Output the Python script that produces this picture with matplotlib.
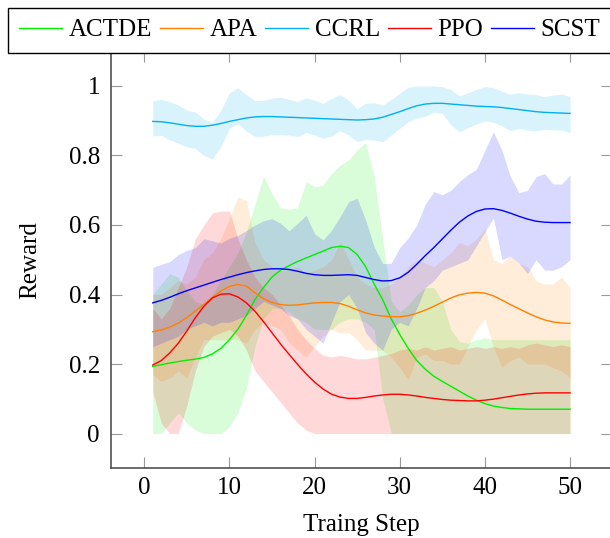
import numpy as np
import matplotlib
matplotlib.use("Agg")
import matplotlib.pyplot as plt

steps = list(range(1, 51))
series_names = ["ACTDE", "APA", "CCRL", "PPO", "SCST"]

actde_mean = [0.193, 0.198, 0.203, 0.207, 0.211, 0.214, 0.219, 0.229, 0.245, 0.27,
              0.30, 0.34, 0.385, 0.42, 0.45, 0.47, 0.483, 0.495, 0.505, 0.515,
              0.525, 0.535, 0.539, 0.535, 0.515, 0.48, 0.43, 0.385, 0.33, 0.285,
              0.245, 0.21, 0.185, 0.165, 0.15, 0.136, 0.122, 0.108, 0.096, 0.086,
              0.079, 0.075, 0.072, 0.071, 0.07, 0.07, 0.07, 0.07, 0.07, 0.07]
actde_upper = [0.40, 0.43, 0.46, 0.45, 0.41, 0.38, 0.37, 0.40, 0.44, 0.48,
               0.52, 0.58, 0.66, 0.74, 0.69, 0.65, 0.645, 0.65, 0.725, 0.71,
               0.715, 0.748, 0.772, 0.787, 0.816, 0.837, 0.74, 0.56, 0.38, 0.35,
               0.37, 0.40, 0.42, 0.42, 0.38, 0.30, 0.265, 0.26, 0.27, 0.275,
               0.27, 0.27, 0.27, 0.27, 0.27, 0.27, 0.27, 0.27, 0.27, 0.27]
actde_lower = [0.0, 0.0, 0.03, 0.06, 0.03, 0.01, 0.0, 0.0, 0.0, 0.02,
               0.06, 0.13, 0.25, 0.33, 0.36, 0.36, 0.35, 0.33, 0.32, 0.30,
               0.30, 0.30, 0.32, 0.33, 0.33, 0.32, 0.30, 0.10, 0.0, 0.0,
               0.0, 0.0, 0.0, 0.0, 0.0, 0.0, 0.0, 0.0, 0.0, 0.0,
               0.0, 0.0, 0.0, 0.0, 0.0, 0.0, 0.0, 0.0, 0.0, 0.0]

apa_mean = [0.293, 0.298, 0.306, 0.318, 0.333, 0.352, 0.372, 0.392, 0.41, 0.423,
            0.429, 0.424, 0.405, 0.388, 0.377, 0.371, 0.369, 0.370, 0.373, 0.376,
            0.377, 0.377, 0.374, 0.366, 0.356, 0.347, 0.341, 0.338, 0.336, 0.336,
            0.339, 0.346, 0.355, 0.366, 0.378, 0.39, 0.399, 0.404, 0.406, 0.404,
            0.396, 0.384, 0.371, 0.359, 0.347, 0.336, 0.327, 0.321, 0.318, 0.317]
apa_upper = [0.40, 0.40, 0.42, 0.44, 0.43, 0.45, 0.50, 0.52, 0.56, 0.62,
             0.68, 0.67, 0.55, 0.50, 0.48, 0.47, 0.47, 0.48, 0.46, 0.47,
             0.48, 0.50, 0.55, 0.50, 0.45, 0.43, 0.42, 0.42, 0.43, 0.45,
             0.48, 0.50, 0.49, 0.48, 0.50, 0.52, 0.55, 0.54, 0.56, 0.59,
             0.50, 0.49, 0.51, 0.49, 0.48, 0.44, 0.43, 0.43, 0.45, 0.42]
apa_lower = [0.17, 0.15, 0.16, 0.18, 0.16, 0.22, 0.27, 0.27, 0.27, 0.27,
             0.27, 0.26, 0.30, 0.32, 0.31, 0.30, 0.26, 0.24, 0.22, 0.25,
             0.28, 0.30, 0.29, 0.29, 0.27, 0.24, 0.24, 0.24, 0.22, 0.19,
             0.155, 0.22, 0.23, 0.21, 0.21, 0.20, 0.20, 0.25, 0.30, 0.33,
             0.25, 0.19, 0.21, 0.22, 0.20, 0.20, 0.20, 0.19, 0.18, 0.16]

ccrl_mean = [0.898, 0.897, 0.894, 0.89, 0.886, 0.884, 0.884, 0.887, 0.892, 0.898,
             0.903, 0.908, 0.911, 0.912, 0.912, 0.911, 0.910, 0.909, 0.908, 0.907,
             0.906, 0.905, 0.904, 0.903, 0.902, 0.903, 0.905, 0.910, 0.918, 0.926,
             0.935, 0.943, 0.948, 0.950, 0.950, 0.948, 0.946, 0.944, 0.942, 0.941,
             0.940, 0.938, 0.935, 0.932, 0.929, 0.926, 0.924, 0.923, 0.922, 0.921]
ccrl_upper = [0.957, 0.962, 0.955, 0.945, 0.930, 0.925, 0.905, 0.895, 0.930, 0.980,
              0.995, 0.975, 0.958, 0.958, 0.965, 0.967, 0.962, 0.955, 0.966, 0.959,
              0.950, 0.964, 0.975, 0.959, 0.935, 0.950, 0.952, 0.945, 0.961, 0.979,
              0.996, 1.0, 1.0, 1.0, 0.998, 0.99, 0.972, 0.98, 0.99, 0.998,
              0.995, 0.985, 0.976, 0.981, 0.977, 0.975, 0.969, 0.974, 0.977, 0.969]
ccrl_lower = [0.856, 0.858, 0.845, 0.835, 0.825, 0.82, 0.80, 0.79, 0.825, 0.878,
              0.892, 0.87, 0.855, 0.855, 0.86, 0.86, 0.859, 0.854, 0.866, 0.859,
              0.849, 0.856, 0.871, 0.859, 0.840, 0.846, 0.844, 0.840, 0.859, 0.878,
              0.897, 0.907, 0.913, 0.925, 0.921, 0.888, 0.868, 0.88, 0.89, 0.90,
              0.895, 0.885, 0.871, 0.878, 0.873, 0.871, 0.875, 0.874, 0.873, 0.866]

ppo_mean = [0.197, 0.21, 0.232, 0.26, 0.295, 0.333, 0.366, 0.390, 0.401, 0.402,
            0.393, 0.376, 0.352, 0.322, 0.29, 0.258, 0.228, 0.199, 0.172, 0.148,
            0.128, 0.113, 0.105, 0.101, 0.101, 0.104, 0.108, 0.111, 0.113, 0.113,
            0.111, 0.108, 0.104, 0.101, 0.098, 0.096, 0.095, 0.094, 0.094, 0.096,
            0.099, 0.103, 0.107, 0.111, 0.114, 0.116, 0.117, 0.117, 0.117, 0.117]
ppo_upper = [0.36, 0.33, 0.36, 0.42, 0.48, 0.56, 0.60, 0.635, 0.64, 0.64,
             0.56, 0.50, 0.45, 0.42, 0.40, 0.37, 0.34, 0.30, 0.27, 0.245,
             0.225, 0.22, 0.225, 0.22, 0.215, 0.215, 0.22, 0.225, 0.23, 0.24,
             0.245, 0.24, 0.25, 0.24, 0.245, 0.25, 0.24, 0.245, 0.25, 0.245,
             0.25, 0.245, 0.25, 0.245, 0.255, 0.26, 0.255, 0.25, 0.255, 0.25]
ppo_lower = [0.12, 0.03, 0.0, 0.0, 0.08, 0.18, 0.25, 0.28, 0.29, 0.30,
             0.28, 0.24, 0.18, 0.15, 0.12, 0.09, 0.06, 0.03, 0.01, 0.0,
             0.0, 0.0, 0.0, 0.0, 0.0, 0.0, 0.0, 0.0, 0.0, 0.0,
             0.0, 0.0, 0.0, 0.0, 0.0, 0.0, 0.0, 0.0, 0.0, 0.0,
             0.0, 0.0, 0.0, 0.0, 0.0, 0.0, 0.0, 0.0, 0.0, 0.0]

scst_mean = [0.376, 0.383, 0.392, 0.402, 0.411, 0.419, 0.427, 0.435, 0.443, 0.450,
             0.457, 0.463, 0.468, 0.472, 0.474, 0.474, 0.472, 0.467, 0.461, 0.457,
             0.455, 0.455, 0.456, 0.457, 0.455, 0.449, 0.443, 0.439, 0.440, 0.448,
             0.464, 0.487, 0.512, 0.535, 0.56, 0.585, 0.608, 0.626, 0.639, 0.646,
             0.647, 0.642, 0.634, 0.625, 0.617, 0.611, 0.608, 0.607, 0.607, 0.607]
scst_upper = [0.478, 0.487, 0.495, 0.515, 0.527, 0.535, 0.56, 0.555, 0.548, 0.562,
              0.57, 0.584, 0.60, 0.612, 0.618, 0.605, 0.583, 0.605, 0.628, 0.575,
              0.557, 0.585, 0.624, 0.667, 0.677, 0.614, 0.537, 0.489, 0.49, 0.535,
              0.563, 0.60, 0.66, 0.696, 0.687, 0.70, 0.725, 0.745, 0.76, 0.815,
              0.868, 0.815, 0.739, 0.693, 0.70, 0.739, 0.748, 0.718, 0.718, 0.744]
scst_lower = [0.25, 0.26, 0.27, 0.28, 0.30, 0.31, 0.32, 0.31, 0.32, 0.32,
              0.33, 0.34, 0.36, 0.38, 0.37, 0.36, 0.34, 0.33, 0.30, 0.28,
              0.26, 0.32, 0.38, 0.40, 0.36, 0.29, 0.26, 0.24, 0.30, 0.32,
              0.31, 0.36, 0.42, 0.44, 0.47, 0.48, 0.49, 0.50, 0.54, 0.58,
              0.62, 0.50, 0.51, 0.49, 0.46, 0.50, 0.47, 0.47, 0.48, 0.50]

colors = ["#00ee00", "#ff8000", "#00b0f0", "#ff0000", "#0000ff"]
means = [actde_mean, apa_mean, ccrl_mean, ppo_mean, scst_mean]
uppers = [actde_upper, apa_upper, ccrl_upper, ppo_upper, scst_upper]
lowers = [actde_lower, apa_lower, ccrl_lower, ppo_lower, scst_lower]

plt.rcParams['font.family'] = ['Liberation Serif', 'DejaVu Serif']

fig = plt.figure(figsize=(6.10, 5.38), dpi=100)
W, H = 610, 538
left, right, top, bottom = 111, 611.8, 51.2, 468.3
ax = fig.add_axes([left / W, 1 - bottom / H, (right - left) / W, (bottom - top) / H])

x = np.array(steps)
handles = []
for name, c, m, u, l in zip(series_names, colors, means, uppers, lowers):
    ax.fill_between(x, l, u, color=c, alpha=0.15, linewidth=0)
for name, c, m in zip(series_names, colors, means):
    h, = ax.plot(x, m, color=c, lw=1.0, label=name)
    handles.append(h)

ax.set_xlim(-3.9, 54.9)
ax.set_ylim(-0.1, 1.1)
ax.set_xticks([0, 10, 20, 30, 40, 50])
ax.set_yticks([0, 0.2, 0.4, 0.6, 0.8, 1.0])
ax.set_yticklabels(["0", "0.2", "0.4", "0.6", "0.8", "1"])
ax.tick_params(direction='in', length=8, width=0.8, color='#999999',
               labelsize=18, top=True, right=True)
ax.tick_params(axis='y', pad=8)
ax.tick_params(axis='x', pad=6)
for s in ax.spines.values():
    s.set_color('#444444')
    s.set_linewidth(1.1)

ax.set_xlabel("Traing Step", fontsize=18, labelpad=11)
ax.set_ylabel("Reward", fontsize=18, labelpad=20)

leg = fig.legend(handles=handles, loc='center', ncol=5,
                 bbox_to_anchor=((11 + 609) / 2 / W, 1 - 30 / H),
                 fontsize=18, frameon=True, fancybox=False, framealpha=1,
                 edgecolor='black', handlelength=1.7, handletextpad=0.28,
                 columnspacing=0.32, borderpad=0.45, borderaxespad=0)
leg.get_frame().set_linewidth(1.0)

fig.savefig("out.png", dpi=100)
